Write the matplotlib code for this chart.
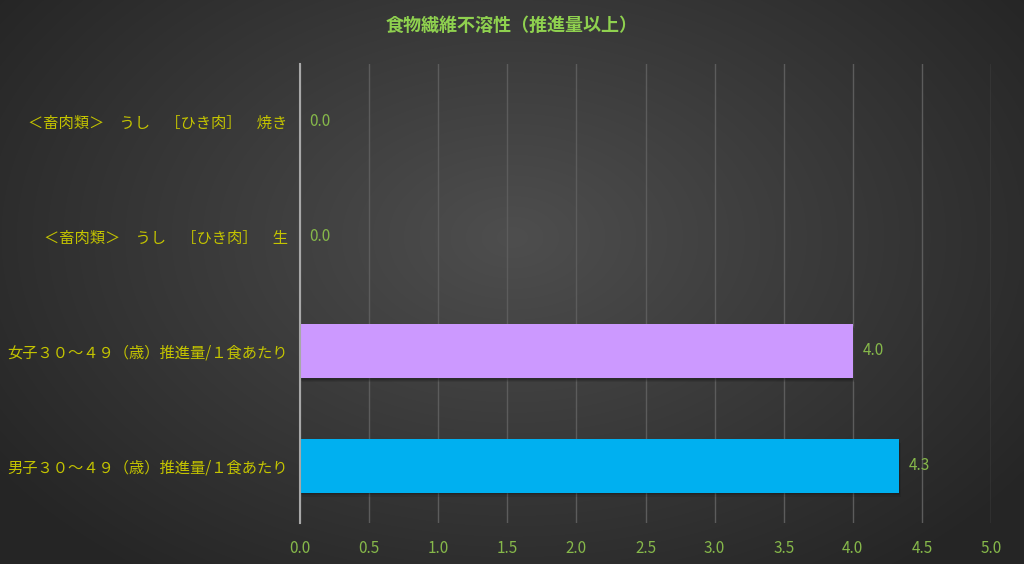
import numpy as np
import matplotlib
matplotlib.use("Agg")
import matplotlib.pyplot as plt
from matplotlib.patches import Rectangle

plt.rcParams['font.family'] = ['Noto Sans CJK JP', 'DejaVu Sans']

title = "食物繊維不溶性（推進量以上）"
categories = [
    "＜畜肉類＞　うし　［ひき肉］　焼き",
    "＜畜肉類＞　うし　［ひき肉］　生",
    "女子３０～４９（歳）推進量/１食あたり",
    "男子３０～４９（歳）推進量/１食あたり",
]
values = [0.0, 0.0, 4.0, 4.333]
bar_colors = ["#CC99FF", "#CC99FF", "#CC99FF", "#00B0F0"]
xticks = [0.0, 0.5, 1.0, 1.5, 2.0, 2.5, 3.0, 3.5, 4.0, 4.5, 5.0]

W, H = 1024, 564
fig = plt.figure(figsize=(W / 100, H / 100), dpi=100)

# radial gradient background
bg = fig.add_axes([0, 0, 1, 1])
yy, xx = np.mgrid[0:H, 0:W]
cx, cy = W * 0.5, H * 0.42
r = np.sqrt(((xx - cx) / (W * 0.62)) ** 2 + ((yy - cy) / (H * 0.75)) ** 2)
r = np.clip(r, 0, 1)
center_c = np.array([0x4e, 0x4e, 0x4e]) / 255
edge_c = np.array([0x25, 0x25, 0x25]) / 255
img = center_c[None, None, :] * (1 - r[..., None]) + edge_c[None, None, :] * r[..., None]
bg.imshow(img, aspect='auto', extent=[0, 1, 0, 1])
bg.set_axis_off()

ax = fig.add_axes([300 / W, 1 - 523 / H, (991 - 300) / W, (523 - 64) / H])
ax.set_facecolor('none')

y = np.arange(len(categories))
bh = 0.47
# soft shadows
for yi, v in zip(y, values):
    if v > 0:
        for k, a in [(0.035, 0.12), (0.025, 0.15), (0.015, 0.2)]:
            ax.add_patch(Rectangle((k * 0.4, yi - bh / 2 + k), v, bh, color='#101010',
                                   alpha=a, zorder=2, linewidth=0))
ax.barh(y, values, height=bh, color=bar_colors, zorder=3)

ax.set_xlim(0, 5)
ax.set_ylim(len(categories) - 0.5, -0.5)
ax.set_xticks(xticks)
ax.set_xticklabels([f"{t:.1f}" for t in xticks])
ax.set_yticks(y)
ax.set_yticklabels(categories)
ax.tick_params(axis='x', colors='#86B84A', labelsize=11, length=0, pad=12)
ax.tick_params(axis='y', colors='#C4C400', labelsize=11, length=0, pad=9)
for lbl in ax.get_xticklabels():
    lbl.set_color('#86B84A')
for lbl in ax.get_yticklabels():
    lbl.set_color('#C4C400')

ax.grid(axis='x', color='#5c5c5c', linewidth=1.0, zorder=0)
ax.set_axisbelow(True)
for s in ['top', 'right', 'bottom']:
    ax.spines[s].set_visible(False)
ax.spines['left'].set_color('#a8a8a8')
ax.spines['left'].set_linewidth(1.5)
ax.spines['left'].set_zorder(4)

for yi, v in zip(y, values):
    ax.annotate(f"{v:.1f}", (v, yi), xytext=(7, 0), textcoords='offset points',
                va='center', ha='left', color='#86B84A', fontsize=11, zorder=5)

fig.text(0.5, 1 - 25 / H, title, ha='center', va='center', color='#8FD14F',
         fontsize=13, fontweight='bold')

fig.savefig("out.png", dpi=100)
